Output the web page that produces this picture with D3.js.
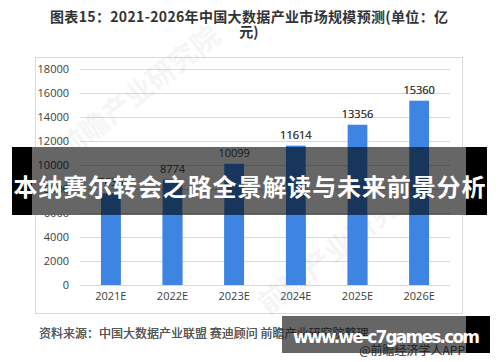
<!DOCTYPE html>
<html>
<head>
<meta charset="utf-8">
<script src="https://cdn.jsdelivr.net/npm/d3@7"></script>
<style>
  body { margin: 0; background: #fff; }
  svg { display: block; }
</style>
</head>
<body>
<div id="chart"></div>
<script>
// market size forecast, 100m yuan (2021E is hidden by the banner, estimated)
const years = ["2021E", "2022E", "2023E", "2024E", "2025E", "2026E"];
const values = [7630, 8774, 10099, 11614, 13356, 15360];
const yTicks = [0, 2000, 4000, 6000, 8000, 10000, 12000, 14000, 16000, 18000];

const titleLines = ["图表15：2021-2026年中国大数据产业市场规模预测(单位：亿", "元)"];
const sourceText = "资料来源：中国大数据产业联盟 赛迪顾问 前瞻产业研究院整理";
const creditText = "@前瞻经济学人APP";
const bannerText = "本纳赛尔转会之路全景解读与未来前景分析";
const siteText = "www.we-c7games.com";

const W = 500, H = 362;
const cjk = "'Noto Sans CJK SC', 'Noto Sans', sans-serif";
const num = "'Open Sans', sans-serif";

const svg = d3.select("#chart").append("svg")
  .attr("width", W)
  .attr("height", H);

// title
svg.append("text")
  .attr("x", 249).attr("y", 22)
  .attr("text-anchor", "middle")
  .attr("textLength", 398)
  .style("font-family", cjk).style("font-size", "14px").style("font-weight", "bold")
  .style("fill", "#333")
  .text(titleLines[0]);
svg.append("text")
  .attr("x", 249).attr("y", 37)
  .attr("text-anchor", "middle")
  .style("font-family", cjk).style("font-size", "14px").style("font-weight", "bold")
  .style("fill", "#333")
  .text(titleLines[1]);

// chart frame
svg.append("rect")
  .attr("x", 35.5).attr("y", 57.5)
  .attr("width", 427).attr("height", 256)
  .style("fill", "#fff").style("stroke", "#d9d9d9");

const x = d3.scaleBand()
  .domain(years)
  .range([80, 450])
  .paddingInner(0.68)
  .paddingOuter(0.34);

const y = d3.scaleLinear()
  .domain([0, 18000])
  .range([285, 69]);

function drawGrid(g, ticks) {
  g.selectAll("line")
    .data(ticks).enter()
    .append("line")
    .attr("x1", 80).attr("x2", 450)
    .attr("y1", d => Math.round(y(d)) + 0.5)
    .attr("y2", d => Math.round(y(d)) + 0.5)
    .style("stroke", "#d9d9d9");
}

function drawBars(g, top) {
  g.selectAll("rect")
    .data(values).enter()
    .append("rect")
    .attr("x", (d, i) => x(years[i]))
    .attr("y", d => Math.max(y(d), top))
    .attr("width", x.bandwidth())
    .attr("height", d => y(0) - Math.max(y(d), top))
    .style("fill", "#3e84e3");
}

function drawValues(g) {
  g.selectAll("text")
    .data(values).enter()
    .append("text")
    .attr("x", (d, i) => x(years[i]) + x.bandwidth() / 2)
    .attr("y", d => y(d) - 7)
    .attr("text-anchor", "middle")
    .style("font-family", num).style("font-size", "11px")
    .style("fill", "#404040")
    .text(d => d);
}

function drawYLabels(g, ticks) {
  g.selectAll("text")
    .data(ticks).enter()
    .append("text")
    .attr("x", 69).attr("y", d => y(d)).attr("dy", "0.32em")
    .attr("text-anchor", "end")
    .style("font-family", num).style("font-size", "11px")
    .style("fill", "#404040")
    .text(d => d);
}

function drawNotes(g) {
  g.append("text")
    .attr("x", 39).attr("y", 338)
    .style("font-family", cjk).style("font-size", "12px")
    .style("fill", "#555")
    .text(sourceText);
  g.append("text")
    .attr("x", 465).attr("y", 355)
    .attr("text-anchor", "end")
    .style("font-family", cjk).style("font-size", "12px")
    .style("fill", "#555")
    .text(creditText);
}

drawGrid(svg.append("g"), yTicks);

// faint watermark
[[145, 100], [345, 255]].forEach(function (p) {
  svg.append("text")
    .attr("transform", "translate(" + p[0] + "," + p[1] + ") rotate(-38)")
    .attr("text-anchor", "middle")
    .style("font-family", cjk).style("font-size", "28px").style("font-weight", "bold")
    .style("fill", "#000").style("opacity", 0.035)
    .text("前瞻产业研究院");
});

// y axis labels
const ya = svg.append("g")
  .attr("transform", "translate(69,0)")
  .call(d3.axisLeft(y).tickValues(yTicks).tickFormat(d3.format("d")).tickSize(0).tickPadding(0));
ya.select(".domain").remove();
ya.selectAll("text")
  .style("font-family", num).style("font-size", "11px")
  .style("fill", "#404040");

// x axis labels
const xa = svg.append("g")
  .attr("transform", "translate(0,292)")
  .call(d3.axisBottom(x).tickSize(0).tickPadding(0));
xa.select(".domain").remove();
xa.selectAll("text")
  .style("font-family", num).style("font-size", "11px")
  .style("fill", "#404040");

drawBars(svg.append("g"), 0);
drawValues(svg.append("g"));
drawNotes(svg.append("g"));

// overlay banner: black ends, translucent middle
svg.append("rect")
  .attr("x", 12).attr("y", 147).attr("width", 475).attr("height", 68)
  .style("fill", "#000");
svg.append("rect")
  .attr("x", 32).attr("y", 147).attr("width", 434).attr("height", 68)
  .style("fill", "#fff");
const under = svg.append("g");
const inBand = yTicks.filter(d => y(d) > 147 && y(d) < 215);
drawGrid(under, inBand);
drawBars(under, 147);
drawValues(under.append("g"));
drawYLabels(under.append("g"), yTicks.filter(d => y(d) > 150 && y(d) < 212));
svg.append("rect")
  .attr("x", 32).attr("y", 147).attr("width", 434).attr("height", 68)
  .style("fill", "#000").style("opacity", 0.6);
svg.append("text")
  .attr("x", 249.5).attr("y", 196)
  .attr("text-anchor", "middle")
  .attr("textLength", 472)
  .style("font-family", cjk).style("font-size", "24px").style("font-weight", "bold")
  .style("fill", "#fff")
  .text(bannerText);

// site badge
svg.append("rect")
  .attr("x", 282).attr("y", 316).attr("width", 208).attr("height", 37)
  .style("fill", "#000");
svg.append("rect")
  .attr("x", 282).attr("y", 316).attr("width", 184).attr("height", 37)
  .style("fill", "#fff");
const badgeUnder = svg.append("g");
drawNotes(badgeUnder);
svg.append("rect")
  .attr("x", 282).attr("y", 316).attr("width", 184).attr("height", 37)
  .style("fill", "#000").style("opacity", 0.6);
svg.append("text")
  .attr("x", 293).attr("y", 343)
  .attr("textLength", 187)
  .style("font-family", "'DejaVu Sans', sans-serif").style("font-size", "17px").style("font-weight", "bold")
  .style("fill", "#fff")
  .text(siteText);
</script>
</body>
</html>
